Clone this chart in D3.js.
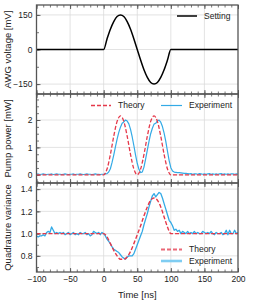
<!DOCTYPE html>
<html>
<head>
<meta charset="utf-8">
<script src="https://cdn.jsdelivr.net/npm/d3@7"></script>
<style>
  body { margin: 0; background: #fff; }
  text { font-family: "Liberation Sans", Arial, sans-serif; fill: #222; }
</style>
</head>
<body>
<div id="chart"></div>
<script>
// time grids
var theoryTime = [-100, 0, 5, 10, 15, 20, 25, 30, 35, 40, 45, 50, 55, 60, 65, 70, 75, 80, 85, 90, 95, 100, 200];
var expTime = d3.range(-100, 200.1, 2.5);

// panel 1: AWG setting [mV]
var settingVoltage = [0, 0, 46, 88, 121, 143, 150, 143, 121, 88, 46, 0, -46, -88, -121, -143, -150, -143, -121, -88, -46, 0, 0];

// panel 2: pump power [mW]
var pumpTheory = [0, 0, 0.21, 0.74, 1.41, 1.95, 2.15, 1.95, 1.41, 0.74, 0.21, 0, 0.21, 0.74, 1.41, 1.95, 2.15, 1.95, 1.41, 0.74, 0.21, 0, 0];
var pumpExp = [
  0.02, 0.03, 0.01, 0.02, 0.03, 0.02, 0.01, 0.02, 0.02, 0.03,
  0.01, 0.02, 0.03, 0.02, 0.02, 0.01, 0.02, 0.03, 0.02, 0.01,
  0.02, 0.02, 0.03, 0.01, 0.02, 0.02, 0.03, 0.02, 0.01, 0.02,
  0.03, 0.02, 0.02, 0.01, 0.02, 0.03, 0.02, 0.02, 0.01, 0.02,
  0.02, 0.03, 0.04, 0.10, 0.22, 0.45, 0.72, 1.02, 1.30, 1.55,
  1.74, 1.88, 1.93, 2.00, 1.96, 1.86, 1.66, 1.38, 1.06, 0.72,
  0.42, 0.20, 0.08, 0.10, 0.28, 0.58, 0.90, 1.22, 1.50, 1.70,
  1.85, 1.88, 1.97, 2.00, 1.92, 1.76, 1.52, 1.22, 0.86, 0.52,
  0.26, 0.14, 0.10, 0.09, 0.08, 0.08, 0.07, 0.06, 0.05, 0.05,
  0.04, 0.03, 0.04, 0.02, 0.03, 0.03, 0.02, 0.04, 0.03, 0.02,
  0.03, 0.02, 0.03, 0.04, 0.02, 0.03, 0.02, 0.03, 0.02, 0.03,
  0.04, 0.02, 0.03, 0.02, 0.03, 0.02, 0.03, 0.03, 0.02, 0.03,
  0.02
];

// panel 3: quadrature variance
var varTheory = [1, 1.0, 0.97, 0.91, 0.85, 0.8, 0.77, 0.77, 0.79, 0.84, 0.91, 0.99, 1.07, 1.16, 1.24, 1.3, 1.32, 1.3, 1.24, 1.15, 1.06, 1.0, 1];
var varExp = [
  0.98, 0.97, 0.98, 0.98, 0.99, 0.98, 1.01, 1.02, 1.01, 1.06,
  1.03, 1.00, 1.01, 1.00, 1.01, 1.00, 1.01, 0.99, 1.00, 1.01,
  0.99, 1.00, 1.01, 0.99, 1.00, 0.99, 1.01, 1.00, 1.00, 1.01,
  0.99, 1.00, 0.98, 0.99, 1.02, 1.01, 1.00, 1.01, 0.99, 1.01,
  1.00, 0.98, 0.95, 0.93, 0.91, 0.88, 0.86, 0.85, 0.84, 0.83,
  0.81, 0.79, 0.78, 0.77, 0.79, 0.80, 0.80, 0.80, 0.82, 0.86,
  0.90, 0.94, 0.98, 1.02, 1.08, 1.13, 1.18, 1.24, 1.29, 1.34,
  1.36, 1.33, 1.35, 1.37, 1.36, 1.32, 1.27, 1.22, 1.17, 1.12,
  1.10, 1.07, 1.03, 1.04, 1.02, 1.03, 1.00, 1.02, 1.01, 1.00,
  1.02, 1.00, 1.01, 1.00, 1.02, 1.00, 1.01, 1.00, 1.00, 1.02,
  1.01, 1.00, 1.01, 1.00, 1.02, 1.00, 0.99, 1.01, 1.00, 1.00,
  1.01, 0.99, 1.00, 1.03, 0.99, 1.03, 1.00, 1.00, 1.03, 1.00,
  1.01
];

var xTicks = [-100, -50, 0, 50, 100, 150, 200];

var width = 254, height = 300;
var left = 36.5, right = 238;
var blue = '#33aae6', red = '#e5384a';

var svg = d3.select('#chart').append('svg')
  .attr('width', width).attr('height', height)
  .attr('viewBox', '0 0 ' + width + ' ' + height);

var x = d3.scaleLinear().domain([-100, 200]).range([left, right]);

var panels = [
  { top: 5, bottom: 94, domain: [-193, 193], ticks: [-150, 0, 150], minor: 75, label: 'AWG voltage [mV]' },
  { top: 94, bottom: 183, domain: [-0.3, 2.95], ticks: [0, 1, 2], minor: 0.25, label: 'Pump power [mW]' },
  { top: 183, bottom: 272, domain: [0.655, 1.455], ticks: [0.8, 1.0, 1.2, 1.4], minor: 0.1, label: 'Quadrature variance' }
];

panels.forEach(function (p, i) {
  p.y = d3.scaleLinear().domain(p.domain).range([p.bottom, p.top]);
  var g = svg.append('g');

  // grid
  g.selectAll('.vg').data(xTicks.slice(1, -1)).enter().append('line')
    .attr('x1', x).attr('x2', x).attr('y1', p.top).attr('y2', p.bottom)
    .attr('stroke', '#dcdcdc').attr('stroke-width', 0.8);
  g.selectAll('.hg').data(p.ticks).enter().append('line')
    .attr('x1', left).attr('x2', right).attr('y1', p.y).attr('y2', p.y)
    .attr('stroke', '#dcdcdc').attr('stroke-width', 0.8);

  // minor ticks
  var xMinor = d3.range(-100, 200.1, 10);
  var yMinor = d3.range(Math.ceil(p.domain[0] / p.minor) * p.minor, p.domain[1], p.minor);
  var axes = [
    d3.axisBottom(x).tickValues(xMinor).tickSize(-2.5).tickFormat(''),
    d3.axisTop(x).tickValues(xMinor).tickSize(-2.5).tickFormat(''),
    d3.axisLeft(p.y).tickValues(yMinor).tickSize(-2.5).tickFormat('')
  ];
  var pos = ['translate(0,' + p.bottom + ')', 'translate(0,' + p.top + ')', 'translate(' + left + ',0)'];
  axes.forEach(function (a, k) {
    var ag = g.append('g').attr('transform', pos[k]).call(a);
    ag.select('.domain').remove();
    ag.selectAll('line').attr('stroke', '#555').attr('stroke-width', 0.8);
  });

  // major ticks
  var bx = d3.axisBottom(x).tickValues(xTicks).tickSize(-4).tickPadding(4)
    .tickFormat(i === 2 ? d3.format('d') : '');
  var bg = g.append('g').attr('transform', 'translate(0,' + p.bottom + ')').call(bx);
  var tg = g.append('g').attr('transform', 'translate(0,' + p.top + ')')
    .call(d3.axisTop(x).tickValues(xTicks).tickSize(-4).tickFormat(''));
  var lg = g.append('g').attr('transform', 'translate(' + left + ',0)')
    .call(d3.axisLeft(p.y).tickValues(p.ticks).tickSize(-4).tickPadding(4)
      .tickFormat(i === 2 ? d3.format('.1f') : d3.format('d')));
  [bg, tg, lg].forEach(function (ag) {
    ag.select('.domain').remove();
    ag.selectAll('line').attr('stroke', '#555').attr('stroke-width', 0.9);
    ag.selectAll('text').attr('font-size', 8.5).attr('fill', '#222')
      .attr('font-family', '"Liberation Sans", Arial, sans-serif');
  });

  // y title
  svg.append('text')
    .attr('transform', 'translate(11,' + ((p.top + p.bottom) / 2) + ') rotate(-90)')
    .attr('text-anchor', 'middle')
    .attr('font-size', 9.5)
    .text(p.label);
});

function drawLine(panel, times, vals, color, w, dash, curve) {
  var line = d3.line()
    .x(function (d) { return x(d[0]); })
    .y(function (d) { return panel.y(d[1]); })
    .curve(curve || d3.curveLinear);
  svg.append('path')
    .datum(d3.zip(times, vals))
    .attr('d', line)
    .attr('fill', 'none')
    .attr('stroke', color)
    .attr('stroke-width', w)
    .attr('stroke-dasharray', dash || null)
    .attr('stroke-linejoin', 'round');
}

// panel 1
drawLine(panels[0], theoryTime, settingVoltage, '#000', 1.5, null, d3.curveMonotoneX);
// panel 2
drawLine(panels[1], expTime, pumpExp, blue, 1.2);
drawLine(panels[1], theoryTime, pumpTheory, red, 1.3, '4,2', d3.curveMonotoneX);
// panel 3
drawLine(panels[2], expTime, varExp, blue, 1.3);
drawLine(panels[2], theoryTime, varTheory, red, 1.4, '4,2', d3.curveMonotoneX);

// frames
panels.forEach(function (p) {
  svg.append('rect')
    .attr('x', left).attr('y', p.top)
    .attr('width', right - left).attr('height', p.bottom - p.top)
    .attr('fill', 'none').attr('stroke', '#555').attr('stroke-width', 1.3);
});

// x title
svg.append('text')
  .attr('x', (left + right) / 2).attr('y', 298)
  .attr('text-anchor', 'middle')
  .attr('font-size', 9.5)
  .text('Time [ns]');

// legends
function legendItem(x1, x2, y, color, w, dash, label) {
  svg.append('line')
    .attr('x1', x1).attr('x2', x2).attr('y1', y).attr('y2', y)
    .attr('stroke', color).attr('stroke-width', w)
    .attr('stroke-dasharray', dash || null);
  svg.append('text')
    .attr('x', x2 + 7).attr('y', y)
    .attr('dy', '0.35em')
    .attr('font-size', 8.5)
    .text(label);
}
legendItem(177, 197, 16, '#000', 1.5, null, 'Setting');
legendItem(91, 111, 105.5, red, 1.3, '4,2', 'Theory');
legendItem(161, 182, 105.5, blue, 1.2, null, 'Experiment');
legendItem(161, 182, 249.5, '#ea6877', 2, '4,2', 'Theory');
legendItem(161, 182, 261, '#7fcdf2', 2.6, null, 'Experiment');
</script>
</body>
</html>
